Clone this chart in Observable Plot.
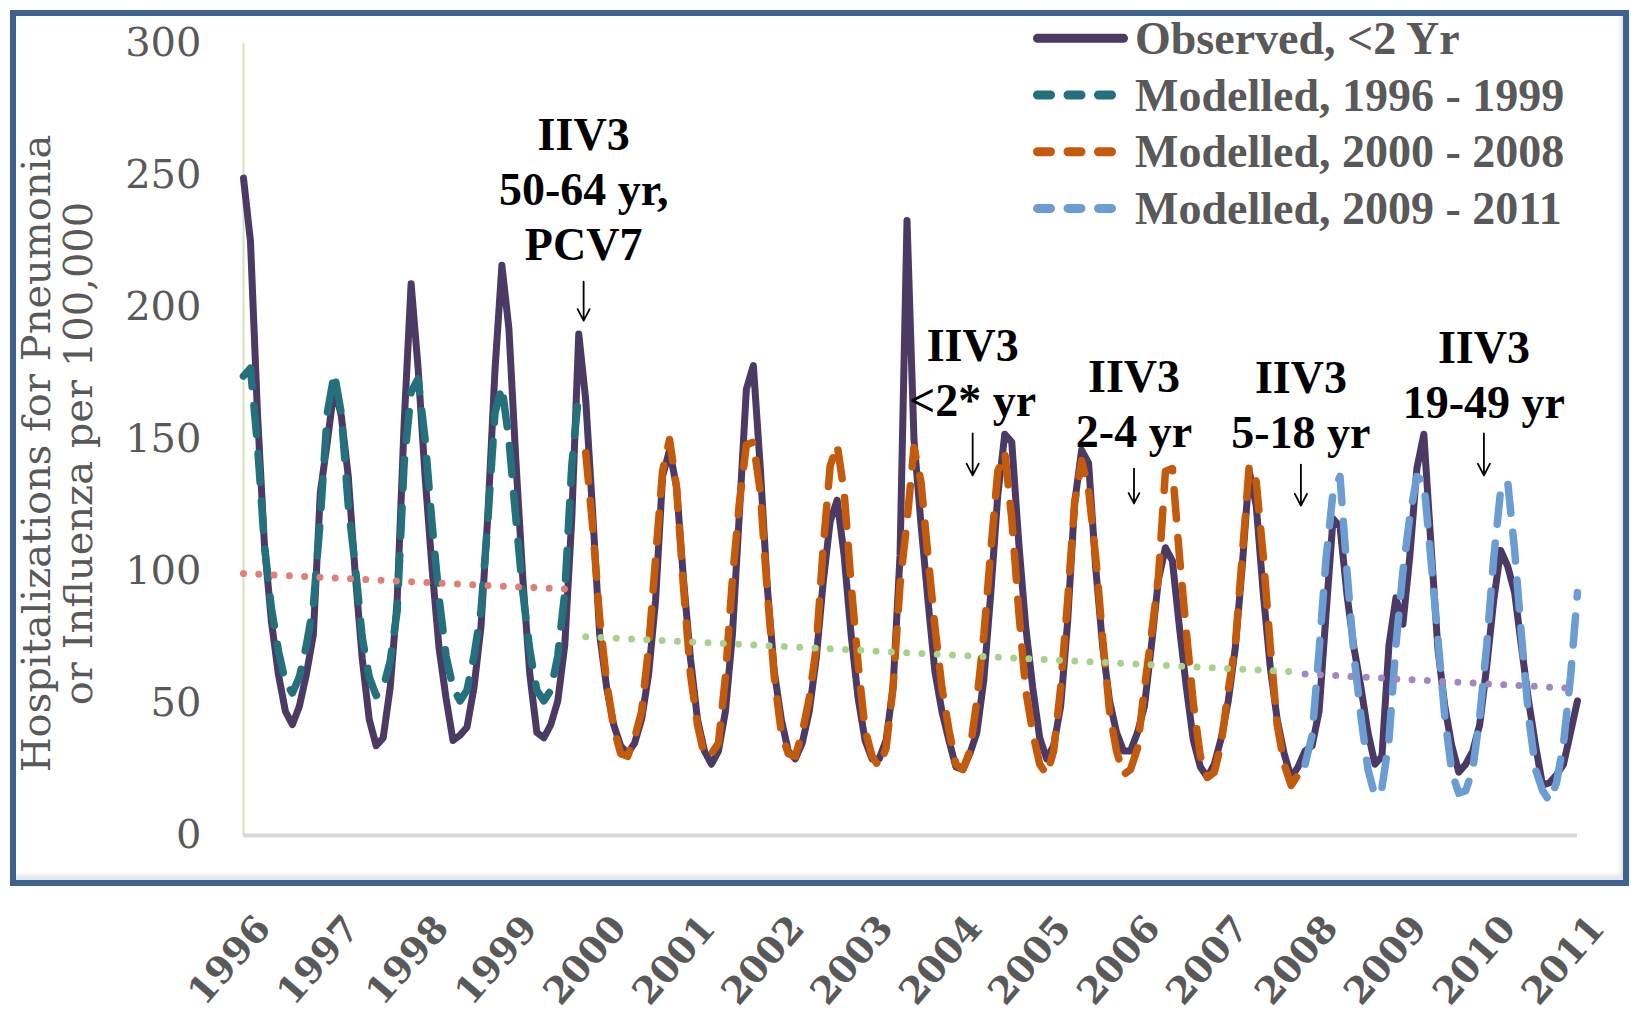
<!DOCTYPE html>
<html>
<head>
<meta charset="utf-8">
<script src="https://cdn.jsdelivr.net/npm/d3@7"></script>
<script src="https://cdn.jsdelivr.net/npm/@observablehq/plot@0.6"></script>
<style>
  body { margin: 0; background: #fff; }
  #wrap { position: relative; width: 1631px; height: 1021px; overflow: hidden; background: #fff; }
  #chart { position: absolute; left: 0; top: 0; }
  #frame { position: absolute; left: 10px; top: 10px; width: 1619px; height: 876px; box-sizing: border-box;
           border: 6px solid #3d6190; box-shadow: inset -3px -5px 4px rgba(0,0,0,0.10); pointer-events: none; }
  #legend { position: absolute; left: 1020px; top: 0px; }
  #legend svg { overflow: visible; }
</style>
</head>
<body>
<div id="wrap"><div id="chart"></div><div id="legend"></div><div id="frame"></div></div>
<script>
// ---------------- data ----------------
const years = ["1996","1997","1998","1999","2000","2001","2002","2003","2004","2005","2006","2007","2008","2009","2010","2011"];
const yTicks = [0, 50, 100, 150, 200, 250, 300];

// Observed, <2 Yr (monthly, 192 points)
const observed = [
  249,225,160,110,81,61,47,42,49,61,
  76,130,149,170,159,136,99,67,44,34,
  37,56,89,156,209,177,136,101,71,52,
  36,38,41,56,79,122,176,216,192,142,
  97,61,39,37,42,51,72,120,190,165,
  122,76,56,42,34,31,35,44,61,89,
  136,146,132,97,67,44,32,27,32,47,
  76,122,169,178,139,94,62,44,32,29,
  35,47,67,96,119,127,106,76,52,36,
  29,29,36,56,106,233,150,118,89,62,
  47,36,26,25,31,39,59,92,129,152,
  149,111,79,56,37,29,34,49,81,126,
  146,141,102,72,51,39,32,32,39,49,
  72,97,109,104,79,56,36,26,22,27,
  37,51,71,102,138,125,92,64,44,31,
  22,26,32,34,47,84,120,117,91,71,
  56,39,27,30,72,90,80,106,139,152,
  111,71,49,34,24,27,32,42,64,89,
  108,102,92,71,51,34,19,20,23,27,
  39,51
];

// Modelled, 1996 - 1999 (starts at month 0)
const modelled9699Start = 0;
const modelled9699 = [
  174,177,148,110,86,70,58,54,60,72,
  87,120,160,175,160,125,102,75,60,53,
  56,66,85,141,168,173,150,118,90,68,
  56,51,55,68,85,120,160,170,150,120,
  92,70,55,51,55,68,92,140,168
];

// Modelled, 2000 - 2008 (starts at month 49)
const modelled0008Start = 49;
const modelled0008 = [
  145,117,82,58,41,31,30,37,47,71,
  105,138,150,132,94,61,42,30,31,35,
  60,97,126,148,149,130,92,60,39,31,
  30,39,52,71,109,140,148,130,95,65,
  40,30,26,33,56,95,119,147,134,106,
  79,56,40,27,25,32,51,76,108,138,
  145,120,85,55,39,27,23,32,56,89,
  126,142,131,106,75,47,32,23,25,33,
  56,76,98,138,139,106,77,50,30,22,
  24,35,55,72,106,140,134,106,72,42,
  27,19,23
];

// Modelled, 2009 - 2011 (starts at month 152)
const modelled0911Start = 152;
const modelled0911 = [
  27,38,70,105,130,136,100,68,45,25,
  15,18,36,72,100,121,136,134,105,75,
  45,24,16,17,25,45,72,105,131,134,
  108,75,45,25,17,13,20,35,60,92
];

// Linear trend lines per period: [start month, end month] and [start value, end value]
const trendMonths = [[0, 47], [49, 151], [152, 191]];
const trendValues = [[99.2, 93.2], [75.3, 61.9], [61.2, 55.6]];
const trendColors = ["#de7f78", "#a9d18e", "#9f88c3"];

// Legend
const legendLabels = ["Observed, <2 Yr", "Modelled, 1996 - 1999", "Modelled, 2000 - 2008", "Modelled, 2009 - 2011"];
const seriesColors = ["#4b3a63", "#25707d", "#c35a0c", "#6c9dd2"];

// Annotations (month position, value position of text block, arrow from/to values)
const noteLabels = ["IIV3\n50-64 yr,\nPCV7", "IIV3\n<2* yr", "IIV3\n2-4 yr", "IIV3\n5-18 yr", "IIV3\n19-49 yr"];
const noteMonth  = [48.7, 104.4, 127.5, 151.4, 177.6];
const noteValue  = [245.6, 176.1, 164.4, 163.8, 175.4];
const arrowFrom  = [209.8, 152.3, 139.0, 140.5, 152.3];
const arrowTo    = [195.0, 136.4, 125.8, 125.0, 136.4];

const yTitle = "Hospitalizations for Pneumonia\nor Influenza per 100,000";

// ---------------- build ----------------
const N = observed.length;
const toPts = (vals, start) => vals.map((v, k) => ({i: start + k, v}));
const obsPts = toPts(observed, 0);
const models = [
  {pts: toPts(modelled9699, modelled9699Start), color: seriesColors[1]},
  {pts: toPts(modelled0008, modelled0008Start), color: seriesColors[2]},
  {pts: toPts(modelled0911, modelled0911Start), color: seriesColors[3]}
];
const trends = trendMonths.map((m, k) => ({
  pts: [{i: m[0], v: trendValues[k][0]}, {i: m[1], v: trendValues[k][1]}],
  color: trendColors[k]
}));
// year labels spread evenly across the category axis
const yearTicks = years.map((y, k) => ({i: k * (N - 1) / (years.length - 1), label: y}));
const notes = noteLabels.map((label, k) => ({label, i: noteMonth[k], v: noteValue[k], a1: arrowFrom[k], a2: arrowTo[k]}));

const plot = Plot.plot({
  width: 1631,
  height: 1021,
  marginLeft: 243,
  marginRight: 54,
  marginTop: 43,
  marginBottom: 186,
  style: {background: "transparent", fontFamily: "DejaVu Serif"},
  x: {domain: [0, N - 1], axis: null},
  y: {domain: [0, 300], axis: null},
  marks: [
    Plot.ruleY([0], {stroke: "#d9d9d9", strokeWidth: 4}),
    Plot.ruleX([0], {y1: 0, y2: 300, stroke: "#d3e3b8", strokeWidth: 2}),
    Plot.axisY({ticks: yTicks, tickSize: 0, tickPadding: 42, fontSize: 40, color: "#595959", fill: "#595959", fontFamily: "DejaVu Serif", label: null}),
    Plot.line(obsPts, {x: "i", y: "v", stroke: seriesColors[0], strokeWidth: 7, strokeLinejoin: "round", strokeLinecap: "round"}),
    ...models.map(m => Plot.line(m.pts, {x: "i", y: "v", stroke: m.color, strokeWidth: 7.5, strokeDasharray: "29 19", strokeLinecap: "round", strokeLinejoin: "round"})),
    ...trends.map(t => Plot.line(t.pts, {x: "i", y: "v", stroke: t.color, strokeWidth: 7, strokeDasharray: "0 15.3", strokeLinecap: "round"})),
    Plot.text(yearTicks, {x: "i", text: "label", frameAnchor: "bottom", rotate: -49, textAnchor: "end", lineAnchor: "middle",
      dx: 20, dy: 86, fontSize: 37, fontWeight: "bold", fill: "#595959", fontFamily: "DejaVu Serif"}),
    Plot.text(notes, {x: "i", y: "v", text: "label", fontSize: 46, fontWeight: "bold", fontFamily: "Liberation Serif",
      fill: "black", lineHeight: 1.2, lineAnchor: "middle", textAnchor: "middle"}),
    Plot.arrow(notes, {x1: "i", x2: "i", y1: "a1", y2: "a2", stroke: "black", strokeWidth: 1.8, headLength: 11, headAngle: 55}),
    Plot.text([yTitle], {text: d => d, frameAnchor: "left", rotate: -90, dx: -186, dy: 14, fontSize: 40,
      fill: "#595959", lineHeight: 1.05, lineAnchor: "middle", textAnchor: "middle", fontFamily: "DejaVu Serif"})
  ]
});
document.getElementById("chart").appendChild(plot);

// ---------------- legend ----------------
const leg = d3.select("#legend").append("svg").attr("width", 600).attr("height", 245);
legendLabels.forEach((lab, k) => {
  const y = 38.3 + k * 56.7;
  const ln = leg.append("line")
    .attr("x1", 17.5).attr("x2", k === 0 ? 103.5 : 91.5)
    .attr("y1", y).attr("y2", y)
    .attr("stroke", seriesColors[k]).attr("stroke-width", 9)
    .attr("stroke-linecap", "round");
  if (k > 0) ln.attr("stroke-dasharray", "13 17.5");
  leg.append("text")
    .attr("x", 115).attr("y", y).attr("dy", "0.34em")
    .attr("font-family", "Liberation Serif").attr("font-weight", "bold").attr("font-size", 46)
    .attr("fill", "#595959")
    .text(lab);
});
</script>
</body>
</html>
